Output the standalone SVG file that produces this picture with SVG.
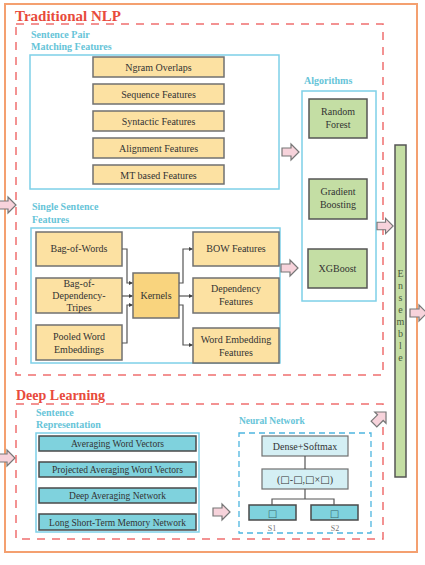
<svg xmlns="http://www.w3.org/2000/svg" xmlns:xlink="http://www.w3.org/1999/xlink" width="425" height="565" viewBox="0 0 425 565">
<style>
text{font-family:"Liberation Serif","Times New Roman",serif;}
.t{font-size:10px;fill:#333;text-anchor:middle;}
.sq{font-family:"DejaVu Sans",sans-serif;}
.yb{fill:#FCE1A2;stroke:#707070;stroke-width:1.5;}
.kb{fill:#F9D47E;stroke:#707070;stroke-width:1.5;}
.gb{fill:#C4DEA4;stroke:#555;stroke-width:1.5;}
.tb{fill:#7FD2DD;stroke:#4a4a4a;stroke-width:1.5;}
.lb{fill:#D4EFF4;stroke:#707070;stroke-width:1.2;}
.cy{fill:none;stroke:#7ED0E8;stroke-width:1.5;}
.rd{fill:none;stroke:#EF6F6F;stroke-width:1.5;stroke-dasharray:8,7;}
.h1{font-size:15px;font-weight:bold;fill:#E84B3C;}
.h2{font-size:10px;font-weight:bold;fill:#66C4D8;}
.cn{fill:none;stroke:#555;stroke-width:1.2;}
.nn{fill:none;stroke:#555;stroke-width:1.2;}
.pa{fill:#F7D3DB;stroke:#777;stroke-width:1.2;}
</style>
<defs>
<path id="arr" d="M0,-4 L9,-4 L9,-8 L17,0 L9,8 L9,4 L0,4 Z"/>
<marker id="dot" markerWidth="4" markerHeight="4" refX="3" refY="2" orient="auto" markerUnits="userSpaceOnUse">
<path d="M0,0 L4,2 L0,4 Z" fill="#444"/>
</marker>
</defs>
<rect width="425" height="565" fill="#fff"/>
<g id="outer"><rect x="5" y="4" width="412" height="548" fill="none" stroke="#F4A070" stroke-width="2"/></g>

<g id="traditional">
<text x="15" y="21" class="h1">Traditional NLP</text>
<rect x="16" y="24" width="367" height="351" class="rd"/>
</g>

<g id="sentence-pair">
<text x="31" y="38" class="h2">Sentence Pair</text>
<text x="31" y="50" class="h2">Matching Features</text>
<rect x="30" y="55" width="249" height="134" class="cy"/>
<g id="ngram"><rect x="93" y="57" width="131" height="20" class="yb"/><text x="158.5" y="71" class="t">Ngram Overlaps</text></g>
<g id="sequence"><rect x="93" y="84" width="131" height="20" class="yb"/><text x="158.5" y="98" class="t">Sequence Features</text></g>
<g id="syntactic"><rect x="93" y="111" width="131" height="20" class="yb"/><text x="158.5" y="125" class="t">Syntactic Features</text></g>
<g id="alignment"><rect x="93" y="138" width="131" height="20" class="yb"/><text x="158.5" y="152" class="t">Alignment Features</text></g>
<g id="mt"><rect x="93" y="165" width="131" height="19" class="yb"/><text x="158.5" y="178.5" class="t">MT based Features</text></g>
</g>

<g id="algorithms">
<text x="304" y="84" class="h2">Algorithms</text>
<rect x="302" y="91" width="74" height="210" class="cy"/>
<g id="rf"><rect x="309" y="99" width="58" height="39" class="gb"/><text x="338" y="115" class="t">Random</text><text x="338" y="128" class="t">Forest</text></g>
<g id="gb"><rect x="309" y="179" width="58" height="40" class="gb"/><text x="338" y="195" class="t">Gradient</text><text x="338" y="208" class="t">Boosting</text></g>
<g id="xgb"><rect x="308" y="249" width="59" height="39" class="gb"/><text x="337.5" y="272" class="t">XGBoost</text></g>
</g>

<g id="single-sentence">
<text x="32" y="210" class="h2">Single Sentence</text>
<text x="32" y="223" class="h2">Features</text>
<rect x="31" y="228" width="249" height="135" class="cy"/>
<g id="bow"><rect x="36" y="232" width="86" height="34" class="yb"/><text x="79" y="252" class="t">Bag-of-Words</text></g>
<g id="bodt"><rect x="36" y="278" width="86" height="35" class="yb"/><text x="79" y="287" class="t">Bag-of-</text><text x="79" y="299" class="t">Dependency-</text><text x="79" y="311" class="t">Tripes</text></g>
<g id="pwe"><rect x="36" y="325" width="86" height="35" class="yb"/><text x="79" y="340" class="t">Pooled Word</text><text x="79" y="353" class="t">Embeddings</text></g>
<g id="kernels"><rect x="133" y="273" width="46" height="45" class="kb"/><text x="156" y="299" class="t">Kernels</text></g>
<g id="bowf"><rect x="193" y="232" width="86" height="34" class="yb"/><text x="236" y="252" class="t">BOW Features</text></g>
<g id="depf"><rect x="193" y="278" width="86" height="35" class="yb"/><text x="236" y="292" class="t">Dependency</text><text x="236" y="305" class="t">Features</text></g>
<g id="wef"><rect x="193" y="328" width="86" height="35" class="yb"/><text x="236" y="343" class="t">Word Embedding</text><text x="236" y="356" class="t">Features</text></g>
</g>

<g id="ensemble">
<rect x="395" y="145" width="11" height="332" class="gb"/>
<g style="font-size:10px;fill:#4a5a3a;text-anchor:middle">
<text x="400.5" y="277">E</text><text x="400.5" y="289">n</text><text x="400.5" y="301">s</text><text x="400.5" y="313">e</text><text x="400.5" y="325">m</text><text x="400.5" y="337">b</text><text x="400.5" y="349">l</text><text x="400.5" y="361">e</text>
</g>
</g>

<g id="deep">
<text x="16" y="400" class="h1" style="font-size:14px">Deep Learning</text>
<rect x="16" y="404" width="367" height="135" class="rd"/>
</g>

<g id="sentence-rep">
<text x="36" y="416" class="h2">Sentence</text>
<text x="36" y="428" class="h2">Representation</text>
<rect x="36" y="433" width="163" height="99" class="cy"/>
<g id="avg"><rect x="39" y="436" width="157" height="15" class="tb"/><text x="117.5" y="447" class="t" style="font-size:9.5px">Averaging Word Vectors</text></g>
<g id="pavg"><rect x="39" y="462" width="157" height="15" class="tb"/><text x="117.5" y="473" class="t" style="font-size:9.5px">Projected Averaging Word Vectors</text></g>
<g id="dan"><rect x="39" y="488" width="157" height="15" class="tb"/><text x="117.5" y="499" class="t" style="font-size:9.5px">Deep Averaging Network</text></g>
<g id="lstm"><rect x="39" y="514" width="157" height="16" class="tb"/><text x="117.5" y="525.5" class="t" style="font-size:9.5px">Long Short-Term Memory Network</text></g>
</g>

<g id="neural-network">
<text x="239" y="424" class="h2" style="font-size:9.5px">Neural Network</text>
<rect x="239" y="433" width="132" height="100" fill="none" stroke="#4DB5DF" stroke-width="1.3" stroke-dasharray="6,4"/>
<g id="dense"><rect x="262" y="436" width="86" height="20" class="lb"/><text x="305" y="450" class="t">Dense+Softmax</text></g>
<g id="comb"><rect x="262" y="469" width="86" height="20" class="lb"/><text x="305" y="483" class="t">(<tspan class="sq">□</tspan>-<tspan class="sq">□</tspan>,<tspan class="sq">□</tspan>×<tspan class="sq">□</tspan>)</text></g>
<g id="s1"><rect x="249" y="505" width="47" height="15" class="tb"/><text x="272.5" y="516.5" class="t sq" style="fill:#3a6a70">□</text><text x="272" y="531" class="t" style="font-size:8px;fill:#777">S1</text></g>
<g id="s2"><rect x="311" y="505" width="47" height="15" class="tb"/><text x="334.5" y="516.5" class="t sq" style="fill:#3a6a70">□</text><text x="335" y="531" class="t" style="font-size:8px;fill:#777">S2</text></g>
</g>

<g id="connectors">
<path class="cn" d="M122,249 H127 V283 H132" marker-end="url(#dot)"/>
<path class="cn" d="M122,296 H132" marker-end="url(#dot)"/>
<path class="cn" d="M122,343 H127 V305 H132" marker-end="url(#dot)"/>
<path class="cn" d="M179,283 H183 V249 H192" marker-end="url(#dot)"/>
<path class="cn" d="M179,296 H192" marker-end="url(#dot)"/>
<path class="cn" d="M179,305 H183 V345 H192" marker-end="url(#dot)"/>
<path class="nn" d="M305,456 V469"/>
<path class="nn" d="M305,489 V499 M272,505 V499 H334 V505"/>
<use xlink:href="#arr" href="#arr" class="pa" transform="translate(282,152)"/>
<use xlink:href="#arr" href="#arr" class="pa" transform="translate(281,268)"/>
<use xlink:href="#arr" href="#arr" class="pa" transform="translate(377,226) scale(0.95)"/>
<use xlink:href="#arr" href="#arr" class="pa" transform="translate(410,313)"/>
<use xlink:href="#arr" href="#arr" class="pa" transform="translate(-1,205)"/>
<use xlink:href="#arr" href="#arr" class="pa" transform="translate(-2,458)"/>
<use xlink:href="#arr" href="#arr" class="pa" transform="translate(213,512)"/>
<use xlink:href="#arr" href="#arr" class="pa" transform="translate(374,424) rotate(-45)"/>
</g>
</svg>
